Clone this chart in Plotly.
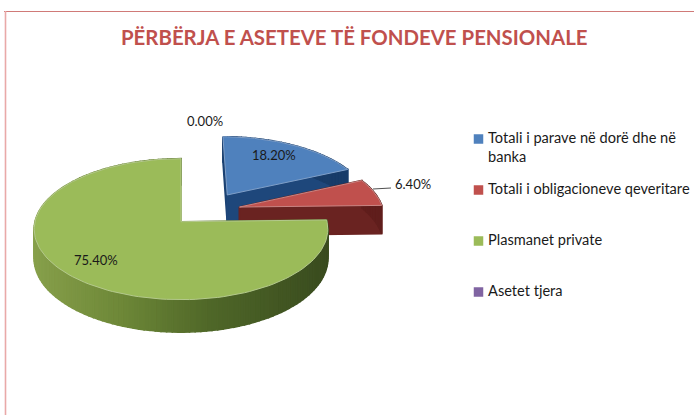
import math
import plotly.graph_objects as go

# ---- data ----
categories = ["Totali i parave në dorë dhe në<br>banka", "Totali i obligacioneve qeveritare",
              "Plasmanet private", "Asetet tjera"]
values = [18.20, 6.40, 75.40, 0.00]
title_text = "PËRBËRJA E ASETEVE TË FONDEVE PENSIONALE"

# ---- style ----
top_colors = ["#4F81BD", "#C0504D", "#9BBB59", "#8064A2"]
edge_colors = ["#7F9FC8", "#C98583", "#B4C98C", "#8064A2"]
face_stops = [
    [(0, (31, 73, 125)), (1, (24, 60, 105))],
    [(0, (108, 36, 34)), (1, (96, 30, 28))],
    [(0, (135, 160, 75)), (.3, (110, 136, 56)), (.6, (80, 104, 41)), (1, (58, 76, 31))],
    [(0, (90, 70, 120)), (1, (90, 70, 120))],
]
explode = [(0.33, 0.40), (0.41, 0.215), (0, 0), (0, 0)]
CX, CY, RX, A, K, DEPTH = 181, 221.7, 146, 69.7, 0.106, 29
label_pos = [(274, 155), (413, 184), (96, 260), (205, 121)]
legend_y = [138, 189, 240, 291]
FONT = "Lato"


def project(u, v, drop=0.0):
    s = -v
    d = 1 - K * s
    return CX + RX * u / d, CY + A * s / d + drop / d


def shade(stops, f):
    for (a, ca), (b, cb) in zip(stops, stops[1:]):
        if f <= b:
            t = (f - a) / (b - a) if b > a else 0
            return "rgb(%d,%d,%d)" % tuple(ca[i] + (cb[i] - ca[i]) * t for i in range(3))
    return "rgb(%d,%d,%d)" % stops[-1][1]


def quad(fig, p, q, color):
    x0, y0 = project(*p)
    x1, y1 = project(*q)
    x2, y2 = project(*q, DEPTH)
    x3, y3 = project(*p, DEPTH)
    fig.add_trace(go.Scatter(x=[x0, x1, x2, x3, x0], y=[y0, y1, y2, y3, y0], mode="lines",
                             fill="toself", fillcolor=color, line=dict(color=color, width=1.6),
                             hoverinfo="skip", showlegend=False))


fig = go.Figure()
total = sum(values)
cum = 0.0
spans = []
for v in values:
    spans.append((cum / total * 2 * math.pi, (cum + v) / total * 2 * math.pi))
    cum += v

for i in range(len(values)):
    if values[i] <= 0:
        continue
    a0, a1 = spans[i]
    ex, ey = explode[i]
    n = max(8, int((a1 - a0) / (2 * math.pi) * 180))
    rim = [(ex + math.sin(a0 + (a1 - a0) * j / n), ey + math.cos(a0 + (a1 - a0) * j / n)) for j in range(n + 1)]
    apex = (ex, ey)
    # cut faces, then outer wall, then the top
    quad(fig, apex, rim[0], shade(face_stops[i], 0.5))
    quad(fig, apex, rim[-1], shade(face_stops[i], 0.1))
    xs = [project(*p)[0] for p in rim]
    for j in range(n):
        f = min(max((xs[j] - (CX - RX)) / (2 * RX), 0), 1)
        quad(fig, rim[j], rim[j + 1], shade(face_stops[i], f))
    pts = [apex] + rim + [apex]
    pr = [project(*p) for p in pts]
    fig.add_trace(go.Scatter(x=[p[0] for p in pr], y=[p[1] for p in pr], mode="lines", fill="toself",
                             fillcolor=top_colors[i], line=dict(color=edge_colors[i], width=1),
                             hoverinfo="skip", showlegend=False, name=categories[i]))

# leader line of the small slice
fig.add_trace(go.Scatter(x=[373, 391], y=[189, 188], mode="lines", line=dict(color="#222222", width=0.8),
                         hoverinfo="skip", showlegend=False))

# legend swatches
for name, c, y in zip(categories, top_colors, legend_y):
    fig.add_trace(go.Scatter(x=[478.5], y=[y + 1], mode="markers", name=name.replace("<br>", " "),
                             marker=dict(symbol="square", size=9.5, color=c), hoverinfo="skip", showlegend=False))

annotations = [dict(x=353.5, y=36.5, text=f"<b>{title_text}</b>", showarrow=False, xanchor="center", yanchor="middle",
                    font=dict(family=FONT, size=20.4, color="#C0504D"))]
for v, (x, y) in zip(values, label_pos):
    annotations.append(dict(x=x, y=y, text=f"{v:.2f}%", showarrow=False, xanchor="center", yanchor="middle",
                            font=dict(family=FONT, size=13, color="#1a1a1a")))
for name, y in zip(categories, legend_y):
    annotations.append(dict(x=486, y=y - 11, text=name, showarrow=False, xanchor="left", yanchor="top", align="left",
                            font=dict(family=FONT, size=14.6, color="#1a1a1a")))

shapes = [
    dict(type="line", x0=4, x1=694, y0=11.5, y1=11.5, line=dict(color="#D07A78", width=1.2), layer="below"),
    dict(type="line", x0=5.5, x1=5.5, y0=11, y1=415, line=dict(color="#E9A9A8", width=1.6), layer="below"),
]

fig.update_layout(
    width=694, height=415, margin=dict(l=0, r=0, t=0, b=0), paper_bgcolor="white", plot_bgcolor="white",
    xaxis=dict(range=[0, 694], visible=False, fixedrange=True),
    yaxis=dict(range=[415, 0], visible=False, fixedrange=True),
    annotations=annotations, shapes=shapes, showlegend=False, hovermode=False,
)
fig.write_html("out.html", config=dict(displayModeBar=False),
               post_script="document.body.style.margin='0';document.body.style.overflow='hidden';")
